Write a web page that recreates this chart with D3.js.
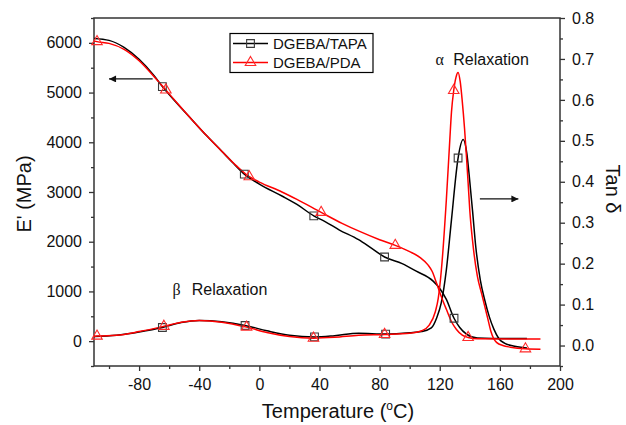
<!DOCTYPE html>
<html>
<head>
<meta charset="utf-8">
<script src="https://cdn.jsdelivr.net/npm/d3@7"></script>
<style>
  html, body { margin: 0; padding: 0; background: #fff; }
  svg { display: block; font-family: "Liberation Sans", Arial, sans-serif; }
</style>
</head>
<body>
<svg id="chart" width="626" height="425"></svg>
<script>
// Storage modulus E' (MPa) against temperature (°C)
const tapaModulus = [
  [-110, 6090], [-100, 6050], [-90, 5910], [-80, 5670], [-70, 5340], [-64.5, 5120],
  [-55, 4790], [-45, 4460], [-35, 4130], [-25, 3820], [-18, 3600], [-10, 3360],
  [0, 3160], [15, 2920], [25, 2750], [36.2, 2520], [44, 2400], [53, 2240],
  [66, 2040], [75, 1860], [83.3, 1693], [95, 1560], [104.4, 1407], [115.6, 1207],
  [120, 1060], [124.4, 840], [129.5, 460], [133.3, 273], [137.8, 140], [145, 62],
  [155, 54], [178, 54]
];
const pdaModulus = [
  [-110, 6040], [-108, 6025], [-100, 5990], [-90, 5870], [-80, 5640], [-70, 5320],
  [-62.2, 5053], [-55, 4800], [-45, 4460], [-35, 4130], [-25, 3820], [-15, 3520],
  [-6.7, 3307], [0, 3200], [15, 3000], [25, 2850], [41.1, 2590], [55, 2370],
  [66.7, 2207], [80, 2040], [90.4, 1927], [100, 1800], [107, 1680], [112, 1540],
  [115, 1400], [117.8, 1173], [121, 900], [124.4, 640], [128, 380], [131, 240],
  [135, 120], [138.9, 73], [145, 48], [187, 42]
];

// Loss factor tan δ against temperature (°C)
const tapaTan = [
  [-110, 0.022], [-95, 0.025], [-80, 0.033], [-64.5, 0.044], [-52, 0.056], [-40, 0.061],
  [-25, 0.058], [-9.5, 0.049], [5, 0.036], [20, 0.025], [36.7, 0.021], [50, 0.024],
  [66, 0.030], [84, 0.028], [100, 0.031], [108, 0.034], [114.4, 0.043], [118, 0.068],
  [121, 0.104], [124.4, 0.185], [127.8, 0.307], [132.2, 0.458], [135.6, 0.503],
  [138, 0.47], [140, 0.40], [141.8, 0.33], [144, 0.24], [147, 0.16], [150, 0.11],
  [153, 0.07], [156, 0.04], [159.5, 0.016], [163, 0.006], [169, -0.001], [178, -0.006]
];
const pdaTan = [
  [-110, 0.022], [-108, 0.023], [-95, 0.025], [-80, 0.034], [-63.5, 0.047], [-52, 0.057],
  [-40, 0.061], [-25, 0.057], [-8.5, 0.045], [5, 0.032], [20, 0.022], [36, 0.018],
  [50, 0.020], [66, 0.025], [83.3, 0.027], [100, 0.030], [108, 0.036], [113, 0.05],
  [117, 0.082], [119, 0.115], [121.1, 0.185], [124.4, 0.356], [126.7, 0.503],
  [127.8, 0.57], [129.3, 0.623], [130.8, 0.655], [132.2, 0.667], [133.6, 0.645],
  [134.9, 0.60], [136.5, 0.53], [137.8, 0.46], [139, 0.39], [140, 0.33], [142, 0.25],
  [145, 0.17], [148, 0.125], [150, 0.095], [152, 0.065], [154, 0.035], [156, 0.016],
  [158, 0.007], [162, 0.0], [167, -0.004], [177, -0.008], [187, -0.009]
];

// Temperatures carrying a symbol on each curve
const tapaModulusMarks = [-64.5, -10, 36.2, 83.3, 129.5];
const tapaTanMarks = [-64.5, -9.5, 36.7, 84, 132.2];
const pdaModulusMarks = [-108, -62.2, -6.7, 41.1, 90.4, 138.9];
const pdaTanMarks = [-108, -63.5, -8.5, 36, 83.3, 129.3, 177];

// Axis ticks
const tempTicks = [-80, -40, 0, 40, 80, 120, 160, 200];
const tempMinor = [-100, -60, -20, 20, 60, 100, 140, 180];
const modulusTicks = [0, 1000, 2000, 3000, 4000, 5000, 6000];
const modulusMinor = [-500, 500, 1500, 2500, 3500, 4500, 5500, 6500];
const tanTicks = [0.0, 0.1, 0.2, 0.3, 0.4, 0.5, 0.6, 0.7, 0.8];
const tanMinor = [-0.05, 0.05, 0.15, 0.25, 0.35, 0.45, 0.55, 0.65, 0.75];

const seriesNames = ["DGEBA/TAPA", "DGEBA/PDA"];

const svg = d3.select("#chart");
const plot = { left: 94, right: 560, top: 18, bottom: 366 };

const x = d3.scaleLinear().domain([-110, 200]).range([plot.left, plot.right]);
const yE = d3.scaleLinear().domain([-500, 6500]).range([plot.bottom, plot.top]);
const yT = d3.scaleLinear().domain([-0.05, 0.8]).range([plot.bottom, plot.top]);

const BLACK = "#000000";
const RED = "#ff0000";
const AXIS = "#333333";

// ---- axes ----
function styleAxis(g, size) {
  g.select(".domain").remove();
  g.selectAll(".tick line").attr("stroke", AXIS).attr("stroke-width", 1.3);
  g.selectAll(".tick text").attr("fill", "#111").style("font-size", size + "px");
}

svg.append("g").attr("transform", `translate(0,${plot.bottom})`)
  .call(d3.axisBottom(x).tickValues(tempTicks).tickSize(5).tickPadding(8).tickFormat(d => String(d)))
  .call(g => styleAxis(g, 16));
svg.append("g").attr("transform", `translate(0,${plot.bottom})`)
  .call(d3.axisBottom(x).tickValues(tempMinor).tickSize(3).tickFormat(""))
  .call(g => styleAxis(g, 16));

svg.append("g").attr("transform", `translate(${plot.left},0)`)
  .call(d3.axisLeft(yE).tickValues(modulusTicks).tickSize(5).tickPadding(7).tickFormat(d => String(d)))
  .call(g => styleAxis(g, 16));
svg.append("g").attr("transform", `translate(${plot.left},0)`)
  .call(d3.axisLeft(yE).tickValues(modulusMinor).tickSize(3).tickFormat(""))
  .call(g => styleAxis(g, 16));

svg.append("g").attr("transform", `translate(${plot.right},0)`)
  .call(d3.axisRight(yT).tickValues(tanTicks).tickSize(5).tickPadding(7).tickFormat(d3.format(".1f")))
  .call(g => styleAxis(g, 16));
svg.append("g").attr("transform", `translate(${plot.right},0)`)
  .call(d3.axisRight(yT).tickValues(tanMinor).tickSize(3).tickFormat(""))
  .call(g => styleAxis(g, 16));

// frame
svg.append("rect")
  .attr("x", plot.left).attr("y", plot.top)
  .attr("width", plot.right - plot.left).attr("height", plot.bottom - plot.top)
  .attr("fill", "none").attr("stroke", AXIS).attr("stroke-width", 1.5);

// ---- curves ----
const lineE = d3.line().x(d => x(d[0])).y(d => yE(d[1])).curve(d3.curveMonotoneX);
const lineT = d3.line().x(d => x(d[0])).y(d => yT(d[1])).curve(d3.curveMonotoneX);

const curves = [
  { data: tapaModulus, line: lineE, color: BLACK },
  { data: tapaTan, line: lineT, color: BLACK },
  { data: pdaModulus, line: lineE, color: RED },
  { data: pdaTan, line: lineT, color: RED }
];
svg.append("g").selectAll("path").data(curves).join("path")
  .attr("d", c => c.line(c.data))
  .attr("fill", "none")
  .attr("stroke", c => c.color)
  .attr("stroke-width", 1.5);

// ---- symbols ----
const square = d3.symbol().type(d3.symbolSquare).size(60);
const triangle = d3.symbol().type(d3.symbolTriangle).size(48);

function pointsAt(series, temps) {
  return temps.map(t => series.find(p => p[0] === t));
}

const symbolSets = [
  { pts: pointsAt(tapaModulus, tapaModulusMarks), y: yE, path: square(), color: "#3a3a3a" },
  { pts: pointsAt(tapaTan, tapaTanMarks), y: yT, path: square(), color: "#3a3a3a" },
  { pts: pointsAt(pdaModulus, pdaModulusMarks), y: yE, path: triangle(), color: "#ff2a2a" },
  { pts: pointsAt(pdaTan, pdaTanMarks), y: yT, path: triangle(), color: "#ff2a2a" }
];
symbolSets.forEach(s => {
  svg.append("g").selectAll("path").data(s.pts).join("path")
    .attr("d", s.path)
    .attr("transform", d => `translate(${x(d[0])},${s.y(d[1])})`)
    .attr("fill", "none")
    .attr("stroke", s.color)
    .attr("stroke-width", 1.1);
});

// ---- legend ----
const legend = svg.append("g").attr("transform", "translate(230,33.5)");
legend.append("rect").attr("width", 143).attr("height", 39)
  .attr("fill", "#fff").attr("stroke", BLACK).attr("stroke-width", 1.2);
const legendRows = [
  { name: seriesNames[0], color: BLACK, sym: square(), symColor: "#3a3a3a" },
  { name: seriesNames[1], color: RED, sym: triangle(), symColor: "#ff2a2a" }
];
legendRows.forEach((r, i) => {
  const yy = 10 + i * 19;
  legend.append("line").attr("x1", 3).attr("x2", 38).attr("y1", yy).attr("y2", yy)
    .attr("stroke", r.color).attr("stroke-width", 1.5);
  legend.append("path").attr("d", r.sym).attr("transform", `translate(20.5,${yy})`)
    .attr("fill", "none").attr("stroke", r.symColor).attr("stroke-width", 1.1);
  legend.append("text").attr("x", 43).attr("y", yy + 5.3)
    .style("font-size", "15px").attr("fill", "#111").text(r.name);
});

// ---- annotations ----
svg.append("defs").append("marker")
  .attr("id", "arrowhead").attr("viewBox", "0 0 10 10")
  .attr("refX", 10).attr("refY", 5)
  .attr("markerWidth", 8).attr("markerHeight", 7)
  .attr("markerUnits", "userSpaceOnUse")
  .attr("orient", "auto")
  .append("path").attr("d", "M0,0 L10,5 L0,10 Z").attr("fill", "#111");

// arrow to the modulus axis
svg.append("line")
  .attr("x1", x(-71)).attr("x2", x(-100))
  .attr("y1", yE(5275)).attr("y2", yE(5275))
  .attr("stroke", "#111").attr("stroke-width", 1.2)
  .attr("marker-end", "url(#arrowhead)");
// arrow to the tan δ axis
svg.append("line")
  .attr("x1", x(146.7)).attr("x2", x(172.3))
  .attr("y1", yT(0.358)).attr("y2", yT(0.358))
  .attr("stroke", "#111").attr("stroke-width", 1.2)
  .attr("marker-end", "url(#arrowhead)");

function relaxLabel(symbol, sx, tx, baseline) {
  svg.append("text").attr("x", sx).attr("y", baseline)
    .style("font-family", "'Liberation Serif', 'Times New Roman', serif")
    .style("font-size", "16px").attr("fill", "#111").text(symbol);
  svg.append("text").attr("x", tx).attr("y", baseline)
    .style("font-size", "16px").attr("fill", "#111").text("Relaxation");
}
relaxLabel("α", 435.5, 453.3, 65);
relaxLabel("β", 172.5, 191.7, 295);

// ---- axis titles ----
const xTitle = svg.append("text").attr("x", 338).attr("y", 418)
  .attr("text-anchor", "middle").style("font-size", "20px").attr("fill", "#111");
xTitle.append("tspan").text("Temperature (");
xTitle.append("tspan").attr("dy", -8).style("font-size", "12px").text("o");
xTitle.append("tspan").attr("dy", 8).text("C)");

svg.append("text")
  .attr("transform", "translate(31,194) rotate(-90)")
  .attr("text-anchor", "middle").style("font-size", "20px").attr("fill", "#111")
  .text("E' (MPa)");

svg.append("text")
  .attr("transform", "translate(606,189) rotate(90)")
  .attr("text-anchor", "middle").style("font-size", "20px").attr("fill", "#111")
  .text("Tan δ");
</script>
</body>
</html>
